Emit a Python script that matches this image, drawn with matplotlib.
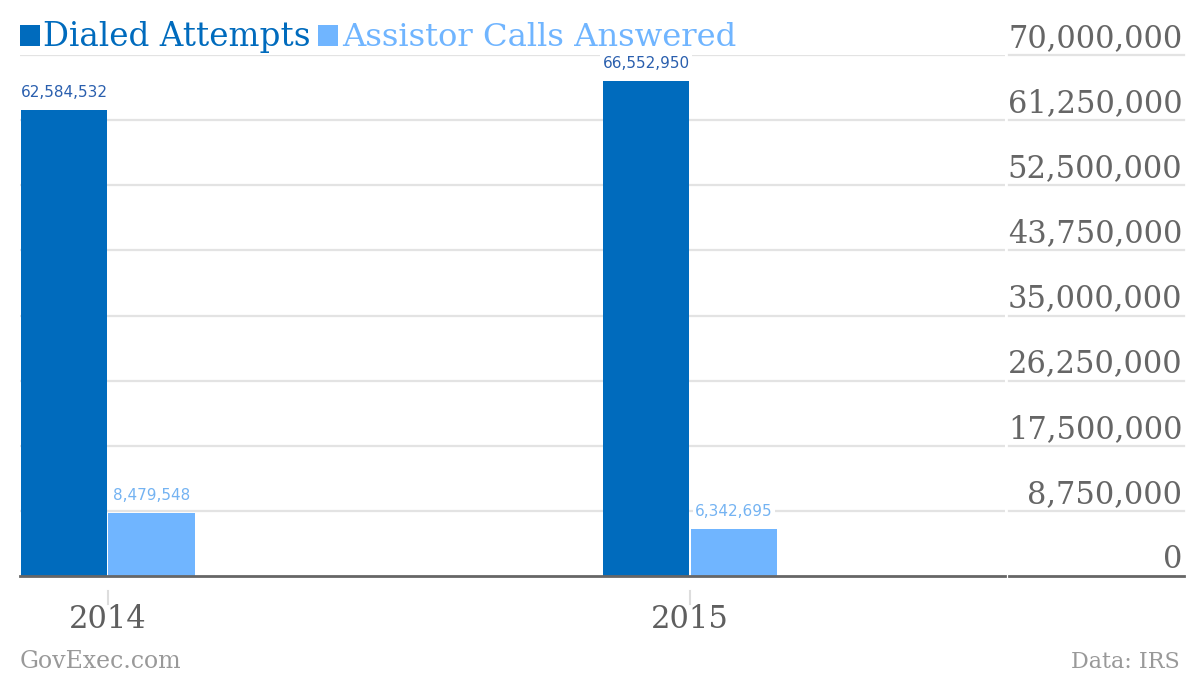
import matplotlib
matplotlib.use("Agg")
import matplotlib.pyplot as plt
import matplotlib.transforms as mtransforms
from matplotlib.patches import Rectangle

years = ["2014", "2015"]
dialed = [62584532, 66552950]
answered = [8479548, 6342695]
series_names = ["Dialed Attempts", "Assistor Calls Answered"]
yticks = [0, 8750000, 17500000, 26250000, 35000000, 43750000, 52500000, 61250000, 70000000]

DARK = "#006bbd"
LIGHT = "#70b5ff"
DARK_LBL = "#2a5fae"
LIGHT_LBL = "#74b3f2"
GRID = "#e3e3e3"
AXIS = "#666666"
TICK = "#666666"

W, H = 1200, 676
fig = plt.figure(figsize=(W / 100, H / 100), dpi=100)
fig.patch.set_facecolor("white")

def fx(x):
    return x / W

def fy(y):
    return 1 - y / H

ax = fig.add_axes([fx(20), fy(576), (1005 - 20) / W, (576 - 55) / H])
ax.set_ylim(0, 70000000)
ax.set_xlim(-0.151, 1.541)
for s in ax.spines.values():
    s.set_visible(False)
ax.set_xticks([])
ax.set_yticks([])

blend = mtransforms.blended_transform_factory(ax.transAxes, ax.transData)
for v in yticks:
    if v == 0:
        continue
    ax.axhline(v, color=GRID, lw=1.6, zorder=0)
    ax.plot([1.004, 1.182], [v, v], color=GRID, lw=1.6, transform=blend, clip_on=False, zorder=0)
# baseline
ax.plot([0, 1], [0, 0], color=AXIS, lw=2, transform=blend, clip_on=False, zorder=3)
ax.plot([1.004, 1.182], [0, 0], color=AXIS, lw=2, transform=blend, clip_on=False, zorder=3)

# tick labels on the right, above gridlines
off = mtransforms.ScaledTranslation(0, 8 / 100, fig.dpi_scale_trans)
for v in yticks:
    ax.text(1.18, v, f"{v:,}", transform=blend + off, ha="right", va="baseline",
            fontsize=22, color=TICK, family="DejaVu Serif", clip_on=False)

x = list(range(len(years)))
bw = 0.149
half = 0.0755
bars1 = ax.bar([i - half for i in x], dialed, width=bw, color=DARK, zorder=2)
bars2 = ax.bar([i + half for i in x], answered, width=bw, color=LIGHT, zorder=2)

lbl_off = mtransforms.ScaledTranslation(0, 10 / 100, fig.dpi_scale_trans)
for bars, vals, col in [(bars1, dialed, DARK_LBL), (bars2, answered, LIGHT_LBL)]:
    for b, v in zip(bars, vals):
        ax.text(b.get_x() + b.get_width() / 2, v, f"{v:,}", transform=ax.transData + lbl_off,
                ha="center", va="bottom", fontsize=11, color=col, family="DejaVu Sans",
                zorder=4, bbox=dict(facecolor="white", edgecolor="none", pad=1.5))

# category ticks and labels
for i, yr in enumerate(years):
    xd = ax.transData.transform((i, 0))[0]
    xf = xd / fig.bbox.width
    fig.add_artist(plt.Line2D([xf, xf], [fy(591), fy(604)], color="#dddddd", lw=1.5))
    fig.text(xf, fy(619), yr, ha="center", va="center", fontsize=22, color="#5f5f5f",
             family="DejaVu Serif")

# legend
fig.add_artist(Rectangle((fx(20), fy(46)), 20 / W, 21 / H, transform=fig.transFigure,
                         facecolor=DARK, edgecolor="none"))
fig.text(fx(43), fy(46), series_names[0], ha="left", va="baseline", fontsize=23.5,
         color=DARK, family="DejaVu Serif")
fig.add_artist(Rectangle((fx(318), fy(46)), 20 / W, 21 / H, transform=fig.transFigure,
                         facecolor=LIGHT, edgecolor="none"))
fig.text(fx(342), fy(46), series_names[1], ha="left", va="baseline", fontsize=23.2,
         color=LIGHT, family="DejaVu Serif")

# footer
fig.text(fx(20), fy(668), "GovExec.com", ha="left", va="baseline", fontsize=17,
         color="#999999", family="DejaVu Serif")
fig.text(fx(1180), fy(668), "Data: IRS", ha="right", va="baseline", fontsize=16,
         color="#999999", family="DejaVu Serif")

fig.savefig("out.png", dpi=100, facecolor="white")
